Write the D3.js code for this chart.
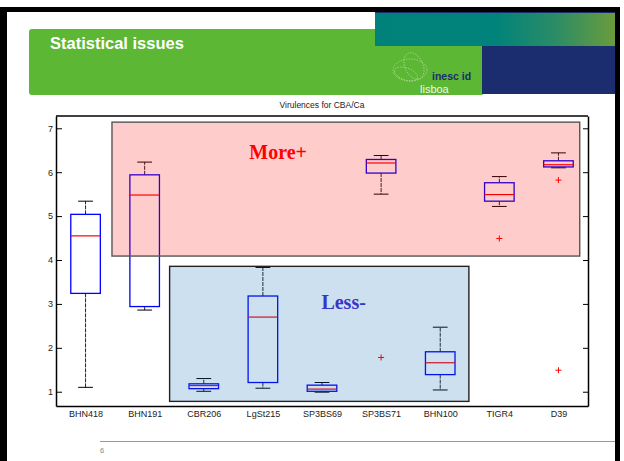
<!DOCTYPE html>
<html>
<head>
<meta charset="utf-8">
<script src="https://cdn.jsdelivr.net/npm/d3@7"></script>
<style>
  html, body { margin: 0; padding: 0; background: #fff; }
  svg { display: block; }
</style>
</head>
<body>
<div id="chart"></div>
<script>
// Box-plot summary per strain: whisker ends, quartiles, median and outliers
const categories = ["BHN418", "BHN191", "CBR206", "LgSt215", "SP3BS69", "SP3BS71", "BHN100", "TIGR4", "D39"];
const whiskerLow  = [1.10, 2.86, 1.01, 1.08, 0.99, 5.50, 1.04, 5.22, 6.10];
const q1          = [3.24, 2.94, 1.07, 1.21, 1.01, 5.98, 1.39, 5.34, 6.12];
const medians     = [4.55, 5.48, 1.14, 2.70, 1.06, 6.21, 1.66, 5.49, 6.17];
const q3          = [5.04, 5.94, 1.18, 3.18, 1.15, 6.29, 1.91, 5.76, 6.26];
const whiskerHigh = [5.34, 6.23, 1.30, 3.83, 1.21, 6.38, 2.47, 5.90, 6.44];
const outliers    = [[], [], [], [], [], [1.78], [], [4.49], [5.82, 1.49]];
const yTicks = [1, 2, 3, 4, 5, 6, 7];

// Highlighted groups, given in category / value units
const groupLabels = ["More+", "Less-"];
const groupX0 = [1.447, 2.422];
const groupX1 = [9.36, 7.485];
const groupY0 = [4.09, 0.78];
const groupY1 = [7.14, 3.856];
const groupTextX = [3.77, 4.99];
const groupTextY = [6.29, 2.877];

const W = 624, H = 461;
const svg = d3.select("#chart").append("svg").attr("width", W).attr("height", H);

// ---------- slide frame and banner ----------
svg.append("rect").attr("x", 0).attr("y", 7).attr("width", 620).attr("height", H).attr("fill", "#000");
svg.append("rect").attr("x", 7).attr("y", 12).attr("width", 608).attr("height", H).attr("fill", "#fff");

svg.append("rect").attr("x", 29).attr("y", 29).attr("width", 455).attr("height", 66)
  .attr("rx", 3).attr("fill", "#5cb734");

const defs = svg.append("defs");
const tg = defs.append("linearGradient").attr("id", "tealGrad").attr("x1", 0).attr("x2", 1);
tg.append("stop").attr("offset", "0%").attr("stop-color", "#00827a");
tg.append("stop").attr("offset", "50%").attr("stop-color", "#00837a");
tg.append("stop").attr("offset", "75%").attr("stop-color", "#2b8c66");
tg.append("stop").attr("offset", "100%").attr("stop-color", "#6a9c3c");
svg.append("rect").attr("x", 375).attr("y", 12).attr("width", 240).attr("height", 34).attr("fill", "url(#tealGrad)");
svg.append("rect").attr("x", 375).attr("y", 12).attr("width", 240).attr("height", 1).attr("fill", "#1b2d6e");
svg.append("rect").attr("x", 482).attr("y", 46).attr("width", 133).attr("height", 48).attr("fill", "#1b2d6e");

svg.append("text").attr("x", 50).attr("y", 49)
  .attr("font-family", "Liberation Sans, Arial, sans-serif").attr("font-weight", "bold")
  .attr("font-size", 16.5).attr("fill", "#fff").text("Statistical issues");

// logo mark
const logo = svg.append("g").attr("fill", "none").attr("stroke", "#d8efc8")
  .attr("stroke-width", 0.6).attr("stroke-dasharray", "1.5,1.2").attr("opacity", 0.85);
logo.append("ellipse").attr("cx", 410).attr("cy", 70).attr("rx", 17).attr("ry", 11);
logo.append("ellipse").attr("cx", 414).attr("cy", 66).attr("rx", 9).attr("ry", 14).attr("transform", "rotate(-25,414,66)");
logo.append("ellipse").attr("cx", 406).attr("cy", 74).attr("rx", 12).attr("ry", 6).attr("transform", "rotate(20,406,74)");
svg.append("text").attr("x", 432).attr("y", 80)
  .attr("font-family", "Liberation Sans, Arial, sans-serif").attr("font-weight", "bold")
  .attr("font-size", 10.5).attr("fill", "#1b2d6e").text("inesc id");
svg.append("text").attr("x", 420).attr("y", 93)
  .attr("font-family", "Liberation Sans, Arial, sans-serif")
  .attr("font-size", 11).attr("fill", "#eef7e6").text("lisboa");

// ---------- box plot ----------
const plot = { left: 56, right: 588, top: 116, bottom: 406 };
const x = d3.scaleLinear().domain([0.5, categories.length + 0.5]).range([plot.left, plot.right]);
const y = d3.scaleLinear().domain([0.675, 7.28]).range([plot.bottom, plot.top]);
const font = "Liberation Sans, Arial, sans-serif";

svg.append("text").attr("x", (plot.left + plot.right) / 2).attr("y", 108)
  .attr("text-anchor", "middle").attr("font-family", font).attr("font-size", 8.5)
  .attr("fill", "#222").text("Virulences for CBA/Ca");

// axes
const yAxisL = d3.axisLeft(y).tickValues(yTicks).tickSizeInner(-6).tickSizeOuter(0).tickPadding(3).tickFormat(d3.format("d"));
const yAxisR = d3.axisRight(y).tickValues(yTicks).tickSizeInner(-5).tickSizeOuter(0).tickFormat("");
const xAxis = d3.axisBottom(x).tickValues(d3.range(1, categories.length + 1))
  .tickSize(0).tickPadding(5).tickFormat(i => categories[i - 1]);

const gL = svg.append("g").attr("transform", `translate(${plot.left},0)`).call(yAxisL);
const gR = svg.append("g").attr("transform", `translate(${plot.right},0)`).call(yAxisR);
const gB = svg.append("g").attr("transform", `translate(0,${plot.bottom})`).call(xAxis);
[gL, gR, gB].forEach(g => {
  g.selectAll("text").attr("font-family", font).attr("font-size", 9).attr("fill", "#222");
  g.selectAll("line").attr("stroke", "#000").attr("stroke-width", 1);
  g.select(".domain").attr("stroke", "#000").attr("stroke-width", 1.5);
});
svg.append("line").attr("x1", plot.left).attr("x2", plot.right)
  .attr("y1", plot.top).attr("y2", plot.top).attr("stroke", "#000").attr("stroke-width", 1.5);

const halfBox = 0.25, halfCap = 0.125;
const idx = categories.map((c, i) => i);
const boxes = svg.append("g").selectAll("g").data(idx).join("g");

// whiskers (dashed) and caps
boxes.append("line")
  .attr("x1", i => x(i + 1)).attr("x2", i => x(i + 1))
  .attr("y1", i => y(q3[i])).attr("y2", i => y(whiskerHigh[i]))
  .attr("stroke", "#222").attr("stroke-width", 1).attr("stroke-dasharray", "4,1");
boxes.append("line")
  .attr("x1", i => x(i + 1)).attr("x2", i => x(i + 1))
  .attr("y1", i => y(q1[i])).attr("y2", i => y(whiskerLow[i]))
  .attr("stroke", "#222").attr("stroke-width", 1).attr("stroke-dasharray", "4,1");
boxes.append("line")
  .attr("x1", i => x(i + 1 - halfCap)).attr("x2", i => x(i + 1 + halfCap))
  .attr("y1", i => y(whiskerHigh[i])).attr("y2", i => y(whiskerHigh[i]))
  .attr("stroke", "#000").attr("stroke-width", 1);
boxes.append("line")
  .attr("x1", i => x(i + 1 - halfCap)).attr("x2", i => x(i + 1 + halfCap))
  .attr("y1", i => y(whiskerLow[i])).attr("y2", i => y(whiskerLow[i]))
  .attr("stroke", "#000").attr("stroke-width", 1);

// box and median
boxes.append("rect")
  .attr("x", i => x(i + 1 - halfBox)).attr("width", i => x(i + 1 + halfBox) - x(i + 1 - halfBox))
  .attr("y", i => y(q3[i])).attr("height", i => y(q1[i]) - y(q3[i]))
  .attr("fill", "none").attr("stroke", "#0000ff").attr("stroke-width", 1.3);
boxes.append("line")
  .attr("x1", i => x(i + 1 - halfBox)).attr("x2", i => x(i + 1 + halfBox))
  .attr("y1", i => y(medians[i])).attr("y2", i => y(medians[i]))
  .attr("stroke", "#ff0000").attr("stroke-width", 1.2);

// ---------- highlighted groups ----------
const groupFill = ["rgba(255,0,0,0.2)", "rgba(0,100,180,0.2)"];
const groupStroke = ["#555", "#222"];
const groupTextColor = ["#ff0000", "#3535c8"];
groupLabels.forEach((label, k) => {
  svg.append("rect")
    .attr("x", x(groupX0[k])).attr("width", x(groupX1[k]) - x(groupX0[k]))
    .attr("y", y(groupY1[k])).attr("height", y(groupY0[k]) - y(groupY1[k]))
    .attr("fill", groupFill[k]).attr("stroke", groupStroke[k]).attr("stroke-width", 1.4);
  svg.append("text")
    .attr("x", x(groupTextX[k])).attr("y", y(groupTextY[k]))
    .attr("font-family", "Liberation Serif, 'Times New Roman', serif").attr("font-weight", "bold")
    .attr("font-size", 20).attr("fill", groupTextColor[k]).text(label);
});

// outliers as red crosses
svg.append("g").selectAll("path")
  .data(idx.flatMap(i => outliers[i].map(v => [i, v])))
  .join("path")
  .attr("transform", d => `translate(${x(d[0] + 1)},${y(d[1])})`)
  .attr("d", "M-3,0H3M0,-3V3")
  .attr("stroke", "#ff0000").attr("stroke-width", 1).attr("fill", "none");

// ---------- footer ----------
svg.append("line").attr("x1", 100).attr("x2", 615).attr("y1", 441.5).attr("y2", 441.5)
  .attr("stroke", "#999").attr("stroke-width", 1);
svg.append("text").attr("x", 100).attr("y", 453)
  .attr("font-family", font).attr("font-size", 7.5).attr("fill", "#888").text("6");
</script>
</body>
</html>
